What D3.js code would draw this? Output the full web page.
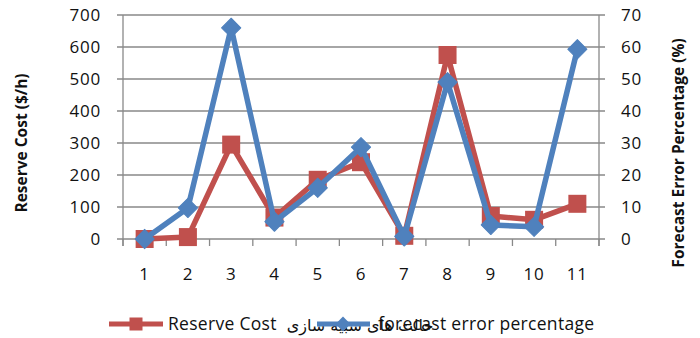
<!DOCTYPE html>
<html>
<head>
<meta charset="utf-8">
<script src="https://cdn.jsdelivr.net/npm/d3@7"></script>
<style>
  html, body { margin: 0; padding: 0; background: #fff; }
  svg { display: block; font-family: "Open Sans", "Liberation Sans", sans-serif; }
</style>
</head>
<body>
<svg id="chart" width="700" height="338"></svg>
<script>
// Simulation cases on the x axis
const categories = ["1", "2", "3", "4", "5", "6", "7", "8", "9", "10", "11"];
// Reserve cost per case ($/h), left axis
const reserveCost = [0, 6, 295, 67, 185, 240, 10, 575, 72, 60, 110];
// Forecast error per case (%), right axis
const forecastError = [0, 9.7, 66, 5.4, 16, 28.7, 0.8, 49, 4.4, 3.8, 59.3];
// Axis tick values
const leftTicks = [0, 100, 200, 300, 400, 500, 600, 700];
const rightTicks = [0, 10, 20, 30, 40, 50, 60, 70];

const red = "#C0504D", blue = "#4F81BD", grid = "#898989";
const svg = d3.select("#chart");
const plot = { left: 123, right: 599, top: 15, bottom: 239 };

const x = d3.scaleBand().domain(categories).range([plot.left, plot.right]).padding(0);
const yL = d3.scaleLinear().domain([0, 700]).range([plot.bottom, plot.top]);
const yR = d3.scaleLinear().domain([0, 70]).range([plot.bottom, plot.top]);
const cx = c => x(c) + x.bandwidth() / 2;

const labelStyle = sel => sel.attr("font-size", 17).attr("letter-spacing", 0.8)
  .attr("fill", "#111").attr("font-family", "Open Sans");

// Horizontal gridlines with small outside ticks on both sides
svg.append("g").selectAll("line").data(leftTicks).join("line")
  .attr("x1", plot.left - 6).attr("x2", plot.right + 6)
  .attr("y1", d => yL(d)).attr("y2", d => yL(d))
  .attr("stroke", grid).attr("stroke-width", 1.3);

// Vertical axis lines
[plot.left, plot.right].forEach(px => {
  svg.append("line").attr("x1", px).attr("x2", px)
    .attr("y1", plot.top).attr("y2", plot.bottom + 7)
    .attr("stroke", grid).attr("stroke-width", 1.3);
});

// Category separators below the baseline
const bounds = categories.map(c => x(c)).concat([plot.right]);
svg.append("g").selectAll("line").data(bounds).join("line")
  .attr("x1", d => d).attr("x2", d => d)
  .attr("y1", plot.bottom).attr("y2", plot.bottom + 7)
  .attr("stroke", grid).attr("stroke-width", 1.3);

// Left axis labels
const leftAxis = d3.axisLeft(yL).tickValues(leftTicks).tickSize(0).tickPadding(0);
svg.append("g").attr("transform", `translate(${plot.left - 22},0)`).call(leftAxis)
  .call(g => g.select(".domain").remove())
  .selectAll("text").call(labelStyle);

// Right axis labels
const rightAxis = d3.axisRight(yR).tickValues(rightTicks).tickSize(0).tickPadding(0);
svg.append("g").attr("transform", `translate(${plot.right + 22},0)`).call(rightAxis)
  .call(g => g.select(".domain").remove())
  .selectAll("text").call(labelStyle);

// Category labels
const bottomAxis = d3.axisBottom(x).tickSize(0).tickPadding(0);
svg.append("g").attr("transform", `translate(0,${plot.bottom + 29})`).call(bottomAxis)
  .call(g => g.select(".domain").remove())
  .selectAll("text").call(labelStyle);

// Axis titles
svg.append("text").attr("transform", "translate(27,143) rotate(-90)")
  .attr("text-anchor", "middle").attr("font-size", 15.5).attr("font-weight", "bold")
  .attr("fill", "#111").text("Reserve Cost ($/h)");
svg.append("text").attr("transform", "translate(684,153) rotate(-90)")
  .attr("text-anchor", "middle").attr("font-size", 15.5).attr("font-weight", "bold")
  .attr("fill", "#111").text("Forecast Error Percentage (%)");

// Series lines
const lineL = d3.line().x((d, i) => cx(categories[i])).y(d => yL(d));
const lineR = d3.line().x((d, i) => cx(categories[i])).y(d => yR(d));

svg.append("path").datum(reserveCost).attr("d", lineL)
  .attr("fill", "none").attr("stroke", red).attr("stroke-width", 5.5).attr("stroke-linejoin", "round");
svg.append("g").selectAll("rect").data(reserveCost).join("rect")
  .attr("x", (d, i) => cx(categories[i]) - 9).attr("y", d => yL(d) - 9)
  .attr("width", 18).attr("height", 18).attr("fill", red);

svg.append("path").datum(forecastError).attr("d", lineR)
  .attr("fill", "none").attr("stroke", blue).attr("stroke-width", 5.5).attr("stroke-linejoin", "round");
svg.append("g").selectAll("path").data(forecastError).join("path")
  .attr("transform", (d, i) => `translate(${cx(categories[i])},${yR(d)}) rotate(45)`)
  .attr("d", d3.symbol().type(d3.symbolSquare).size(185)).attr("fill", blue)
  .attr("stroke", blue).attr("stroke-width", 1).attr("stroke-linejoin", "round");

// X axis title (sits in the legend row)
svg.append("text").attr("x", 360).attr("y", 331).attr("text-anchor", "middle")
  .attr("font-size", 16).attr("fill", "#111").attr("direction", "rtl")
  .attr("font-family", "'DejaVu Sans', sans-serif")
  .text("حالت های شبیه سازی");

// Legend
const lg = svg.append("g");
lg.append("line").attr("x1", 109).attr("x2", 163).attr("y1", 324).attr("y2", 324)
  .attr("stroke", red).attr("stroke-width", 5);
lg.append("rect").attr("x", 129.5).attr("y", 317.5).attr("width", 13).attr("height", 13).attr("fill", red);
lg.append("text").attr("x", 168).attr("y", 330).attr("font-size", 17.5).attr("letter-spacing", 0.3)
  .attr("fill", "#111").text("Reserve Cost");
lg.append("line").attr("x1", 317).attr("x2", 370).attr("y1", 324).attr("y2", 324)
  .attr("stroke", blue).attr("stroke-width", 5);
lg.append("path").attr("transform", "translate(343,324) rotate(45)")
  .attr("d", d3.symbol().type(d3.symbolSquare).size(110)).attr("fill", blue);
lg.append("text").attr("x", 378).attr("y", 330).attr("font-size", 17.5).attr("letter-spacing", 0.3)
  .attr("fill", "#111").text("forecast error percentage");
</script>
</body>
</html>
